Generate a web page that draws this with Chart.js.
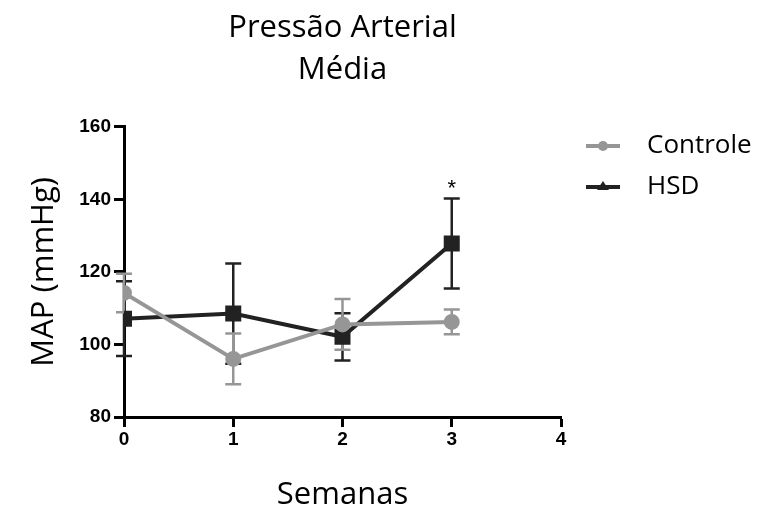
<!DOCTYPE html>
<html>
<head>
<meta charset="utf-8">
<script src="https://cdn.jsdelivr.net/npm/chart.js@4"></script>
<style>
  html, body { margin: 0; padding: 0; background: #fff; }
  #wrap { width: 758px; height: 509px; }
</style>
</head>
<body>
<div id="wrap"><canvas id="chart_map"></canvas></div>
<script>
const weeks = [0, 1, 2, 3];
const controleMean = [114.2, 96.0, 105.5, 106.2];
const controleErr = [5.3, 7.0, 7.0, 3.4];
const hsdMean = [107.1, 108.5, 102.1, 127.8];
const hsdErr = [10.3, 13.8, 6.5, 12.4];
const xTicks = [0, 1, 2, 3, 4];
const yTicks = [80, 100, 120, 140, 160];
const sigWeeks = [3];

const COLORS = {
    controle: 'rgb(150, 150, 150)',
    hsd: 'rgb(34, 34, 34)',
};

const toPoints = (xs, ys) => xs.map((x, i) => ({ x: x, y: ys[i] }));

// error bars + asterisk drawn with the chart's own scales
const errorBars = {
    id: 'errorBars',
    beforeDatasetsDraw(chart) {
        const { ctx, scales: { x, y } } = chart;
        const sets = [
            { mean: hsdMean, err: hsdErr, color: COLORS.hsd },
            { mean: controleMean, err: controleErr, color: COLORS.controle },
        ];
        ctx.save();
        ctx.lineWidth = 2.5;
        sets.forEach(s => {
            ctx.strokeStyle = s.color;
            weeks.forEach((w, i) => {
                const px = x.getPixelForValue(w);
                const top = y.getPixelForValue(s.mean[i] + s.err[i]);
                const bot = y.getPixelForValue(s.mean[i] - s.err[i]);
                ctx.beginPath();
                ctx.moveTo(px, top); ctx.lineTo(px, bot);
                ctx.moveTo(px - 8, top); ctx.lineTo(px + 8, top);
                ctx.moveTo(px - 8, bot); ctx.lineTo(px + 8, bot);
                ctx.stroke();
            });
        });
        ctx.restore();
    },
    afterDatasetsDraw(chart) {
        const { ctx, scales: { x, y } } = chart;
        ctx.save();
        ctx.fillStyle = '#000';
        ctx.font = '22px "Liberation Sans", Arial, sans-serif';
        ctx.textAlign = 'center';
        ctx.textBaseline = 'alphabetic';
        sigWeeks.forEach(w => {
            const i = weeks.indexOf(w);
            const px = x.getPixelForValue(w);
            const top = y.getPixelForValue(hsdMean[i] + hsdErr[i]);
            ctx.fillText('*', px, top - 4);
        });
        ctx.restore();
    }
};

// legend as in the original (line + marker, text on the right)
const sideLegend = {
    id: 'sideLegend',
    afterDraw(chart) {
        const { ctx } = chart;
        const items = [
            { label: 'Controle', color: COLORS.controle, style: 'circle', y: 146 },
            { label: 'HSD', color: COLORS.hsd, style: 'triangle', y: 187 },
        ];
        ctx.save();
        items.forEach(it => {
            ctx.strokeStyle = it.color;
            ctx.fillStyle = it.color;
            ctx.lineWidth = 4;
            ctx.beginPath();
            ctx.moveTo(586, it.y); ctx.lineTo(620, it.y);
            ctx.stroke();
            ctx.beginPath();
            if (it.style === 'circle') {
                ctx.arc(603, it.y, 5, 0, Math.PI * 2);
            } else {
                ctx.moveTo(603, it.y - 6); ctx.lineTo(609, it.y + 3); ctx.lineTo(597, it.y + 3);
                ctx.closePath();
            }
            ctx.fill();
            ctx.fillStyle = '#000';
            ctx.font = '26px "Open Sans", sans-serif';
            ctx.textAlign = 'left';
            ctx.textBaseline = 'middle';
            ctx.fillText(it.label, 647, it.y);
        });
        ctx.restore();
    }
};

const tickFont = { family: '"Liberation Sans", Arial, sans-serif', size: 19, weight: 'bold' };
const titleFont = { family: '"Open Sans", sans-serif', size: 31, weight: 'normal' };

const axisGrid = {
    display: true,
    drawOnChartArea: false,
    drawTicks: true,
    tickLength: 10,
    tickWidth: 3,
    color: '#000',
};

new Chart(document.getElementById('chart_map'), {
    type: 'line',
    data: {
        datasets: [
            {
                label: 'Controle',
                data: toPoints(weeks, controleMean),
                borderColor: COLORS.controle,
                backgroundColor: COLORS.controle,
                borderWidth: 4,
                pointStyle: 'circle',
                pointRadius: 6,
                tension: 0,
            },
            {
                label: 'HSD',
                data: toPoints(weeks, hsdMean),
                borderColor: COLORS.hsd,
                backgroundColor: COLORS.hsd,
                borderWidth: 4,
                pointStyle: 'rect',
                pointRadius: 8.5,
                tension: 0,
            },
        ]
    },
    options: {
        responsive: true,
        maintainAspectRatio: false,
        animation: false,
        events: [],
        layout: { padding: { left: 20, right: 197, top: 0, bottom: 0 } },
        plugins: {
            legend: { display: false },
            tooltip: { enabled: false },
            title: {
                display: true,
                fullSize: false,
                text: ['Pressão Arterial', 'Média'],
                color: '#000',
                font: { ...titleFont, lineHeight: 1.35 },
                padding: { top: 7, bottom: 36 },
            },
        },
        scales: {
            x: {
                type: 'linear',
                min: 0,
                max: 4,
                afterBuildTicks: (s) => { s.ticks = xTicks.map(v => ({ value: v })); },
                afterFit: (s) => { s.height = 92; },
                ticks: { color: '#000', font: tickFont, padding: 1, maxRotation: 0 },
                grid: axisGrid,
                border: { display: true, color: '#000', width: 3 },
                title: { display: true, text: 'Semanas', color: '#000', font: { ...titleFont, lineHeight: 0.9 }, padding: 0 },
            },
            y: {
                type: 'linear',
                min: 80,
                max: 160,
                afterBuildTicks: (s) => { s.ticks = yTicks.map(v => ({ value: v })); },
                afterFit: (s) => { s.width = 104; },
                ticks: { color: '#000', font: tickFont, padding: 3 },
                grid: axisGrid,
                border: { display: true, color: '#000', width: 3 },
                title: { display: true, text: 'MAP (mmHg)', color: '#000', font: titleFont, padding: 6 },
            },
        },
    },
    plugins: [errorBars, sideLegend],
});
</script>
</body>
</html>
